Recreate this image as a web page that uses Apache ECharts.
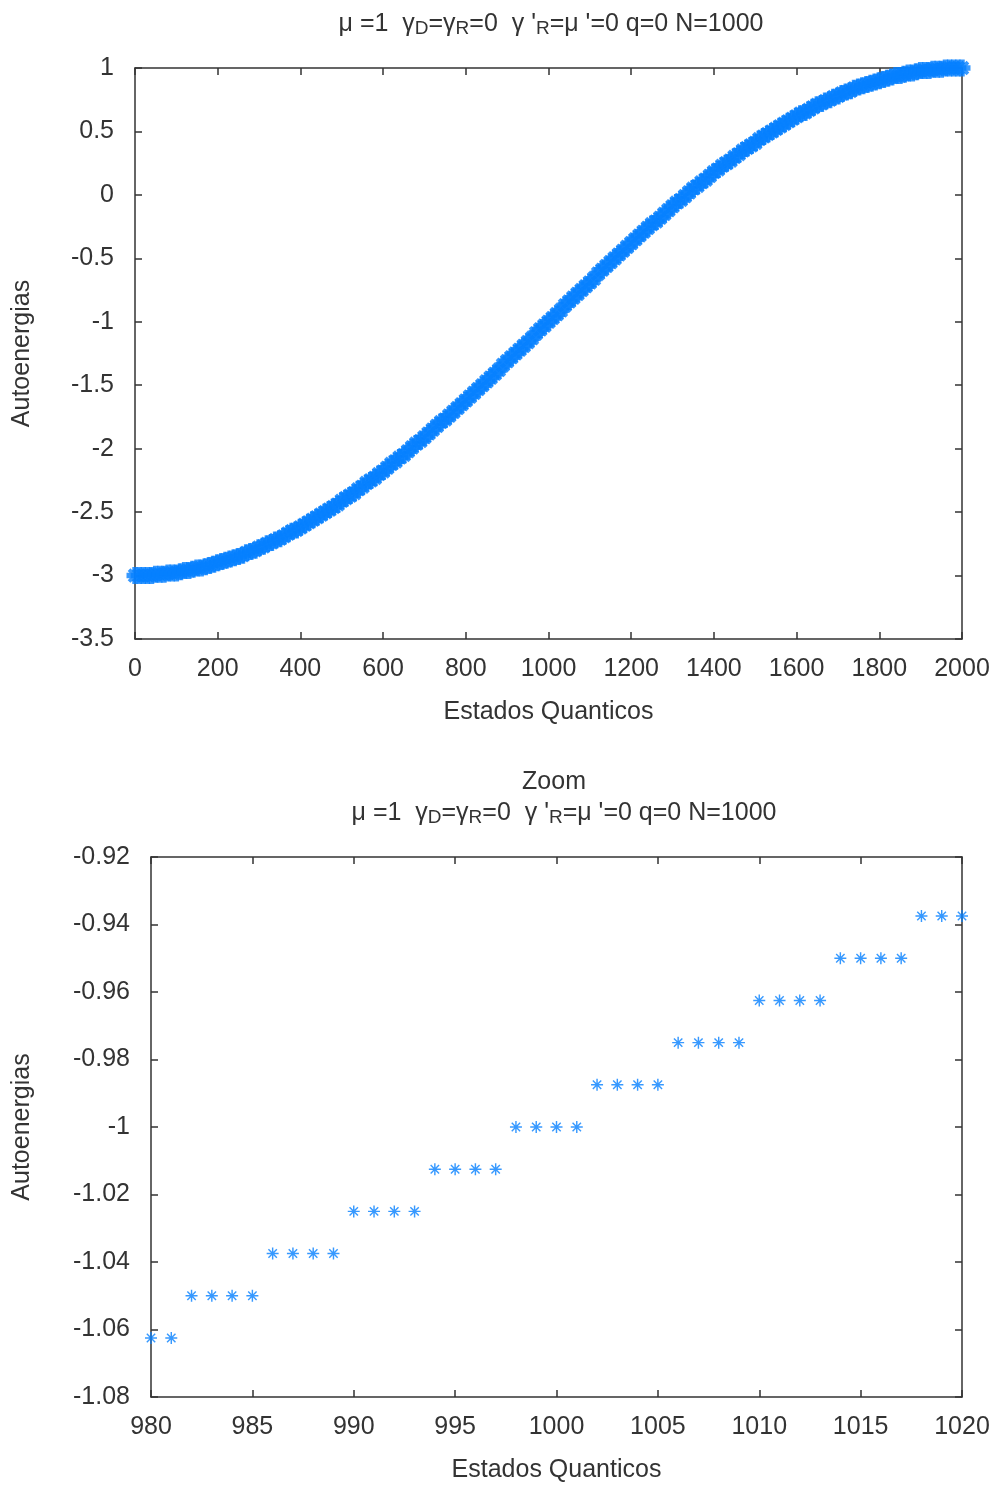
<!DOCTYPE html>
<html>
<head>
<meta charset="utf-8">
<script src="https://cdn.jsdelivr.net/npm/echarts@6/dist/echarts.min.js"></script>
<style>
  html, body { margin: 0; padding: 0; background: #fff; }
  #chart { width: 996px; height: 1486px; }
</style>
</head>
<body>
<div id="chart"></div>
<script>
'use strict';

// painel de cima: estados 0..2000 lidos a cada 10
var estadosStep = 10;
var autoenergias = [
  -3.00, -3.00, -3.00, -3.00, -3.00, -2.99, -2.99, -2.99, -2.98, -2.98,
  -2.98, -2.97, -2.96, -2.96, -2.95, -2.94, -2.94, -2.93, -2.92, -2.91,
  -2.90, -2.89, -2.88, -2.87, -2.86, -2.85, -2.84, -2.82, -2.81, -2.80,
  -2.78, -2.77, -2.75, -2.74, -2.72, -2.71, -2.69, -2.67, -2.65, -2.64,
  -2.62, -2.60, -2.58, -2.56, -2.54, -2.52, -2.50, -2.48, -2.46, -2.44,
  -2.41, -2.39, -2.37, -2.35, -2.32, -2.30, -2.27, -2.25, -2.23, -2.20,
  -2.18, -2.15, -2.12, -2.10, -2.07, -2.05, -2.02, -1.99, -1.96, -1.94,
  -1.91, -1.88, -1.85, -1.82, -1.79, -1.77, -1.74, -1.71, -1.68, -1.65,
  -1.62, -1.59, -1.56, -1.53, -1.50, -1.47, -1.44, -1.41, -1.38, -1.34,
  -1.31, -1.28, -1.25, -1.22, -1.19, -1.16, -1.13, -1.09, -1.06, -1.03,
  -1.00,
  -0.97, -0.94, -0.91, -0.87, -0.84, -0.81, -0.78, -0.75, -0.72, -0.69,
  -0.66, -0.62, -0.59, -0.56, -0.53, -0.50, -0.47, -0.44, -0.41, -0.38,
  -0.35, -0.32, -0.29, -0.26, -0.23, -0.21, -0.18, -0.15, -0.12, -0.09,
  -0.06, -0.04, -0.01, 0.02, 0.05, 0.07, 0.10, 0.12, 0.15, 0.18,
  0.20, 0.23, 0.25, 0.27, 0.30, 0.32, 0.35, 0.37, 0.39, 0.41,
  0.44, 0.46, 0.48, 0.50, 0.52, 0.54, 0.56, 0.58, 0.60, 0.62,
  0.64, 0.65, 0.67, 0.69, 0.71, 0.72, 0.74, 0.75, 0.77, 0.78,
  0.80, 0.81, 0.82, 0.84, 0.85, 0.86, 0.87, 0.88, 0.89, 0.90,
  0.91, 0.92, 0.93, 0.94, 0.94, 0.95, 0.96, 0.96, 0.97, 0.98,
  0.98, 0.98, 0.99, 0.99, 0.99, 1.00, 1.00, 1.00, 1.00, 1.00
];

// painel zoom
var zoomEstados = [980, 981, 982, 983, 984, 985, 986, 987, 988, 989, 990,
  991, 992, 993, 994, 995, 996, 997, 998, 999, 1000, 1001, 1002, 1003, 1004,
  1005, 1006, 1007, 1008, 1009, 1010, 1011, 1012, 1013, 1014, 1015, 1016,
  1017, 1018, 1019, 1020];
var zoomEnergias = [
  -1.0625, -1.0625,
  -1.05, -1.05, -1.05, -1.05,
  -1.0375, -1.0375, -1.0375, -1.0375,
  -1.025, -1.025, -1.025, -1.025,
  -1.0125, -1.0125, -1.0125, -1.0125,
  -1.0, -1.0, -1.0, -1.0,
  -0.9875, -0.9875, -0.9875, -0.9875,
  -0.975, -0.975, -0.975, -0.975,
  -0.9625, -0.9625, -0.9625, -0.9625,
  -0.95, -0.95, -0.95, -0.95,
  -0.9375, -0.9375, -0.9375
];

var titulo = '{t|μ =1  γ}{s|D}{t|=γ}{s|R}{t|=0  γ \'}{s|R}{t|=μ \'=0 q=0 N=1000}';
var xNome = 'Estados Quanticos';
var yNome = 'Autoenergias';

var cor = '#0580ff';
var corTexto = '#333';
var fonte = 'Liberation Sans';
var tam = 25;
// asterisco de 8 pontas (ponto tipo 3 do gnuplot)
var asterisco = 'path://M0 4.4L10 4.4L10 5.6L0 5.6Z M4.4 0L5.6 0L5.6 10L4.4 10Z ' +
  'M1.08 1.92L1.92 1.08L8.92 8.08L8.08 8.92Z M8.08 1.08L8.92 1.92L1.92 8.92L1.08 8.08Z ' +
  'M3.6 3.6L6.4 3.6L6.4 6.4L3.6 6.4Z';
// versao mais cheia para o painel denso
var asteriscoDenso = 'path://M0 3.4L10 3.4L10 6.6L0 6.6Z M3.4 0L6.6 0L6.6 10L3.4 10Z ' +
  'M0.7 2.3L2.3 0.7L9.3 7.7L7.7 9.3Z M7.7 0.7L9.3 2.3L2.3 9.3L0.7 7.7Z ' +
  'M2.5 2.5L7.5 2.5L7.5 7.5L2.5 7.5Z';

var dadosTopo = autoenergias.map(function (v, i) { return [i * estadosStep, v]; });
var dadosZoom = zoomEstados.map(function (x, i) { return [x, zoomEnergias[i]]; });

var rich = {
  t: { fontSize: tam, fontFamily: fonte, fontWeight: 'normal', color: corTexto, lineHeight: 28 },
  s: { fontSize: 19, fontFamily: fonte, fontWeight: 'normal', color: corTexto, lineHeight: 20, padding: [15, 0, 0, 0], verticalAlign: 'bottom' }
};

function numero(v) { return String(v); }

function eixoX(grid, min, max, interval, comNome) {
  return {
    type: 'value', gridIndex: grid, min: min, max: max, interval: interval,
    position: 'bottom',
    name: comNome ? xNome : '', nameLocation: 'middle', nameGap: 61,
    nameTextStyle: { fontSize: tam, fontFamily: fonte, color: corTexto },
    axisLine: { onZero: false, lineStyle: { color: '#333', width: 1.5 } },
    axisTick: { inside: true, length: 7, lineStyle: { color: '#333', width: 1.5 } },
    axisLabel: { fontSize: tam, fontFamily: fonte, color: corTexto, margin: 18, formatter: numero },
    splitLine: { show: false }
  };
}
function eixoXTopo(grid, min, max, interval) {
  return {
    type: 'value', gridIndex: grid, min: min, max: max, interval: interval,
    position: 'top',
    axisLine: { onZero: false, lineStyle: { color: '#333', width: 1.5 } },
    axisTick: { inside: true, length: 7, lineStyle: { color: '#333', width: 1.5 } },
    axisLabel: { show: false },
    splitLine: { show: false }
  };
}
function eixoY(grid, min, max, interval, gap) {
  return {
    type: 'value', gridIndex: grid, min: min, max: max, interval: interval,
    position: 'left',
    name: yNome, nameLocation: 'middle', nameGap: gap, nameRotate: 90,
    nameTextStyle: { fontSize: tam, fontFamily: fonte, color: corTexto },
    axisLine: { show: true, onZero: false, lineStyle: { color: '#333', width: 1.5 } },
    axisTick: { inside: true, length: 7, lineStyle: { color: '#333', width: 1.5 } },
    axisLabel: { fontSize: tam, fontFamily: fonte, color: corTexto, margin: 21, formatter: numero },
    splitLine: { show: false }
  };
}
function eixoYDireita(grid, min, max, interval) {
  return {
    type: 'value', gridIndex: grid, min: min, max: max, interval: interval,
    position: 'right',
    axisLine: { show: true, onZero: false, lineStyle: { color: '#333', width: 1.5 } },
    axisTick: { inside: true, length: 7, lineStyle: { color: '#333', width: 1.5 } },
    axisLabel: { show: false },
    splitLine: { show: false }
  };
}

var chart = echarts.init(document.getElementById('chart'), null, { renderer: 'canvas' });
chart.setOption({
  backgroundColor: '#fff',
  animation: false,
  title: [
    { text: titulo, left: 546, top: 5, textAlign: 'center', textStyle: { rich: rich } },
    { text: 'Zoom', left: 549, top: 765, textAlign: 'center',
      textStyle: { fontSize: tam, fontFamily: fonte, color: corTexto, fontWeight: 'normal' } },
    { text: titulo, left: 559, top: 794, textAlign: 'center', textStyle: { rich: rich } }
  ],
  grid: [
    { left: 135, top: 68, width: 827, height: 571 },
    { left: 151, top: 857, width: 811, height: 540 }
  ],
  xAxis: [
    eixoX(0, 0, 2000, 200, true),
    eixoXTopo(0, 0, 2000, 200),
    eixoX(1, 980, 1020, 5, true),
    eixoXTopo(1, 980, 1020, 5)
  ],
  yAxis: [
    eixoY(0, -3.5, 1, 0.5, 100),
    eixoYDireita(0, -3.5, 1, 0.5),
    eixoY(1, -1.08, -0.92, 0.02, 116),
    eixoYDireita(1, -1.08, -0.92, 0.02)
  ],
  series: [
    {
      type: 'scatter', xAxisIndex: 0, yAxisIndex: 0, data: dadosTopo,
      symbol: asteriscoDenso, symbolSize: 17, clip: false,
      itemStyle: { color: cor }
    },
    {
      type: 'scatter', xAxisIndex: 2, yAxisIndex: 2, data: dadosZoom,
      symbol: asterisco, symbolSize: 12, clip: false,
      itemStyle: { color: cor }
    }
  ]
});
</script>
</body>
</html>
